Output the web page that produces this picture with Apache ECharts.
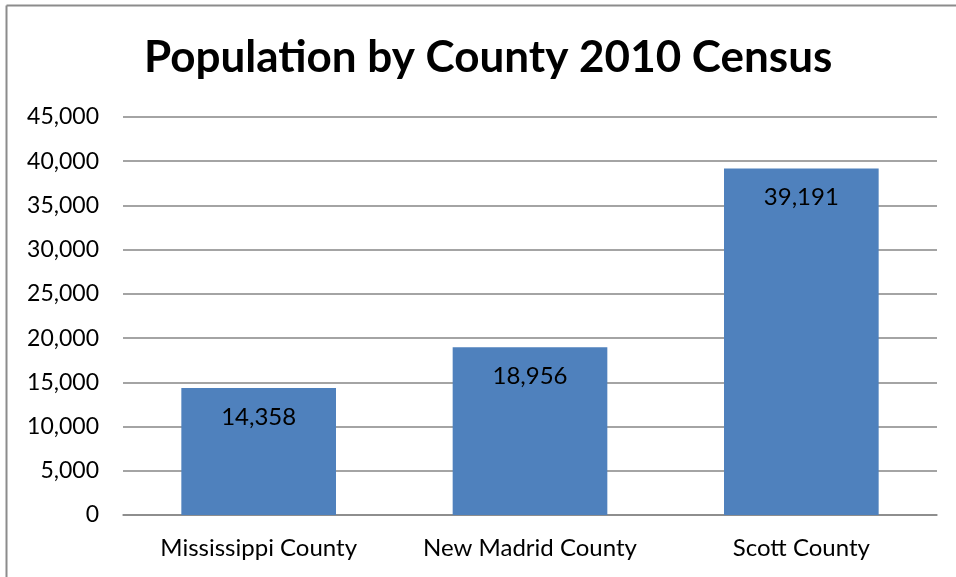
<!DOCTYPE html>
<html><head><meta charset="utf-8">
<script src="https://cdn.jsdelivr.net/npm/echarts@6/dist/echarts.min.js"></script>
<style>html,body{margin:0;padding:0;background:#fff}#c{width:956px;height:577px}</style>
</head><body><div id="c"></div>
<script>
const categories = ['Mississippi County', 'New Madrid County', 'Scott County'];
const populations = [14358, 18956, 39191];
const titleText = 'Population by County 2010 Census';
const font = 'Lato';
const chart = echarts.init(document.getElementById('c'));
chart.setOption({
  animation: false,
  backgroundColor: '#fff',
  title: {
    text: titleText, left: 139, top: 31,
    textStyle: { fontFamily: font, fontWeight: 'bold', fontSize: 44, color: '#000' }
  },
  graphic: [
    { type: 'line', shape: { x1: 6.5, y1: 5.5, x2: 956, y2: 5.5 }, style: { stroke: '#8c8c8c', lineWidth: 2 } },
    { type: 'line', shape: { x1: 6.5, y1: 5.5, x2: 6.5, y2: 577 }, style: { stroke: '#8c8c8c', lineWidth: 2 } }
  ],
  grid: { left: 123, right: 19, top: 117, bottom: 62, containLabel: false },
  xAxis: {
    type: 'category', data: categories,
    axisLine: { show: true, lineStyle: { color: '#868686', width: 1.5 } },
    axisTick: { show: false },
    axisLabel: { fontFamily: font, fontSize: 24, color: '#000', margin: 21, interval: 0, hideOverlap: false }
  },
  yAxis: {
    type: 'value', min: 0, max: 45000, interval: 5000,
    axisLine: { show: false }, axisTick: { show: false },
    splitLine: { lineStyle: { color: '#868686', width: 1.5 } },
    axisLabel: {
      fontFamily: font, fontSize: 23, color: '#000', margin: 24,
      formatter: v => v.toLocaleString('en-US')
    }
  },
  series: [{
    type: 'bar', data: populations, barWidth: '57%',
    itemStyle: { color: '#4F81BD' },
    label: {
      show: true, position: 'insideTop', distance: 17,
      fontFamily: font, fontSize: 24, color: '#000',
      formatter: p => p.value.toLocaleString('en-US')
    }
  }]
});
</script></body></html>
